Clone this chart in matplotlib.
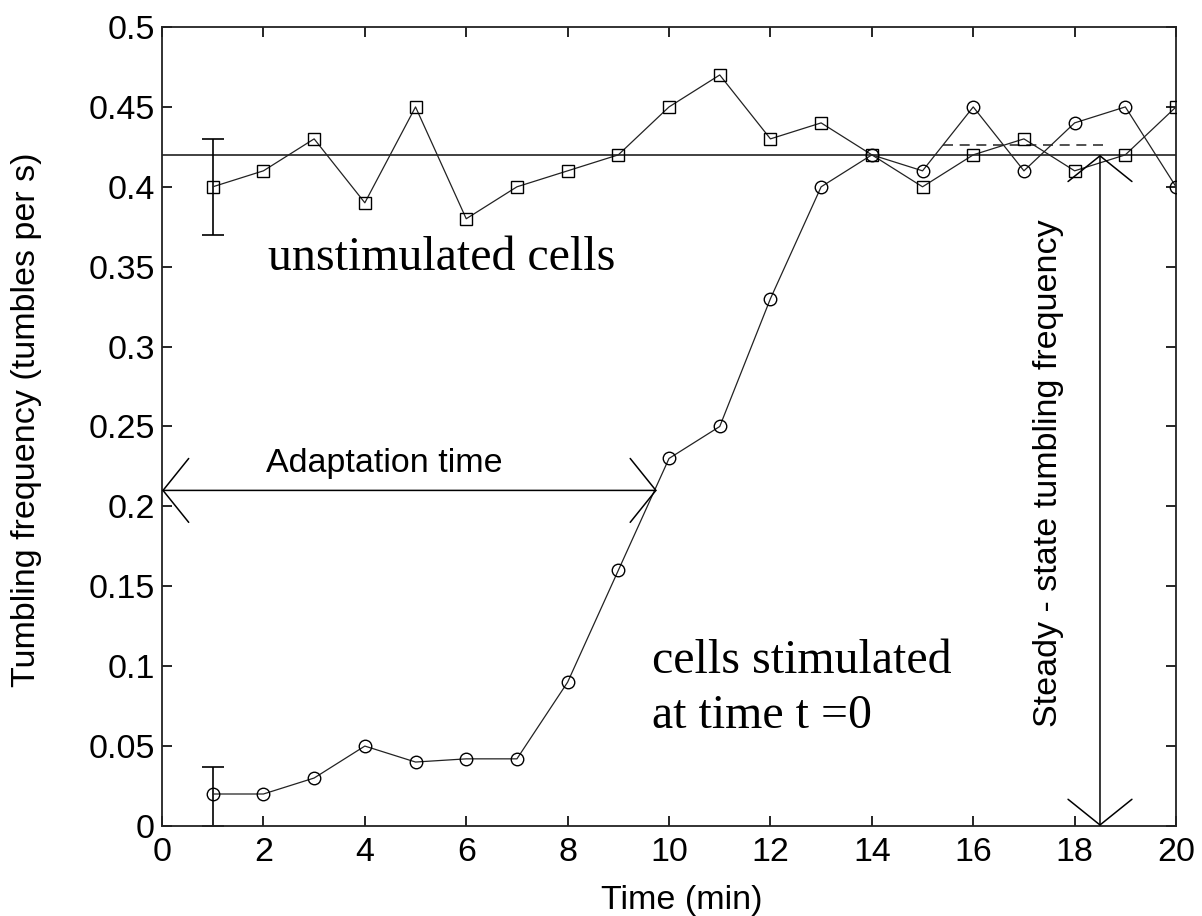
import matplotlib
matplotlib.use("Agg")
import matplotlib.pyplot as plt
import numpy as np

# ---- data ----
time_min = [1, 2, 3, 4, 5, 6, 7, 8, 9, 10, 11, 12, 13, 14, 15, 16, 17, 18, 19, 20]
unstimulated = [0.40, 0.41, 0.43, 0.39, 0.45, 0.38, 0.40, 0.41, 0.42, 0.45,
                0.47, 0.43, 0.44, 0.42, 0.40, 0.42, 0.43, 0.41, 0.42, 0.45]
stimulated = [0.02, 0.02, 0.03, 0.05, 0.04, 0.042, 0.042, 0.09, 0.16, 0.23,
              0.25, 0.33, 0.40, 0.42, 0.41, 0.45, 0.41, 0.44, 0.45, 0.40]
err_x = [1]
unstim_err_y = [0.40]
unstim_err = [0.03]
stim_err_y = [0.02]
stim_err_low = [0.02]
stim_err_high = [0.017]
steady_state = 0.42
steady_dash = 0.426
dash_span = [15.4, 18.6]
adapt_y = 0.21
adapt_end = 9.76
steady_x = 18.5
xticks = list(range(0, 21, 2))
yticks = [0, 0.05, 0.1, 0.15, 0.2, 0.25, 0.3, 0.35, 0.4, 0.45, 0.5]
ytick_labels = ["0", "0.05", "0.1", "0.15", "0.2", "0.25", "0.3", "0.35", "0.4", "0.45", "0.5"]

sans = ["Liberation Sans", "DejaVu Sans"]
serif = ["Liberation Serif", "DejaVu Serif"]
plt.rcParams['font.family'] = sans

fig = plt.figure(figsize=(12.02, 9.16), dpi=100)
ax = fig.add_axes([0.1348, 0.0983, 0.9784 - 0.1348, 0.9705 - 0.0983])

lc = "#222222"
ax.plot(time_min, unstimulated, color=lc, lw=0.9, marker='s', ms=8,
        mfc='none', mec='black', mew=1.0, zorder=3)
ax.plot(time_min, stimulated, color=lc, lw=0.9, marker='o', ms=9,
        mfc='none', mec='black', mew=1.0, zorder=3)
ax.errorbar(err_x, unstim_err_y, yerr=[unstim_err, unstim_err], fmt='none',
            ecolor='black', elinewidth=1.2, capsize=8, capthick=1.2, zorder=2)
ax.errorbar(err_x, stim_err_y, yerr=[stim_err_low, stim_err_high], fmt='none',
            ecolor='black', elinewidth=1.2, capsize=8, capthick=1.2, zorder=2)

ax.axhline(steady_state, color='#333333', lw=1.3, zorder=1)
ax.plot(dash_span, [steady_dash, steady_dash], color='#333333', lw=1.2,
        ls=(0, (6, 4)), zorder=1)

arrow_kw = dict(arrowstyle="<->,head_length=18.5,head_width=23",
                mutation_scale=1, color='black', lw=1.1, shrinkA=0, shrinkB=0)
ax.annotate("", xy=(adapt_end, adapt_y), xytext=(0, adapt_y),
            arrowprops=arrow_kw, zorder=4)
ax.annotate("", xy=(steady_x, 0), xytext=(steady_x, steady_state),
            arrowprops=arrow_kw, zorder=4)

fs = 24.5
ax.text(2.09, 0.348, "unstimulated cells", family=serif, fontsize=34.5,
        ha='left', va='baseline')
ax.text(9.66, 0.096, "cells stimulated", family=serif, fontsize=34.5,
        ha='left', va='baseline')
ax.text(9.66, 0.061, "at time t =0", family=serif, fontsize=34.5,
        ha='left', va='baseline')
ax.text(2.05, 0.2215, "Adaptation time", fontsize=fs, ha='left', va='baseline')
ax.text(17.48, 0.221, "Steady - state tumbling frequency", fontsize=fs,
        rotation=90, ha='center', va='center')

ax.set_xlim(0, 20)
ax.set_ylim(0, 0.5)
ax.set_xticks(xticks)
ax.set_yticks(yticks)
ax.set_yticklabels(ytick_labels)
ax.tick_params(direction='in', length=7, width=1.2, top=True, right=True,
               labelsize=fs, colors='black')
ax.tick_params(axis='x', pad=8)
ax.tick_params(axis='y', pad=5)
for s in ax.spines.values():
    s.set_linewidth(1.3)
    s.set_color('#222222')

ax.set_xlabel("Time (min)", fontsize=fs)
ax.set_ylabel("Tumbling frequency (tumbles per s)", fontsize=fs)
ax.xaxis.set_label_coords(0.513, -0.074)
ax.yaxis.set_label_coords(-0.118, 0.508)

fig.savefig("out.png", dpi=100)
